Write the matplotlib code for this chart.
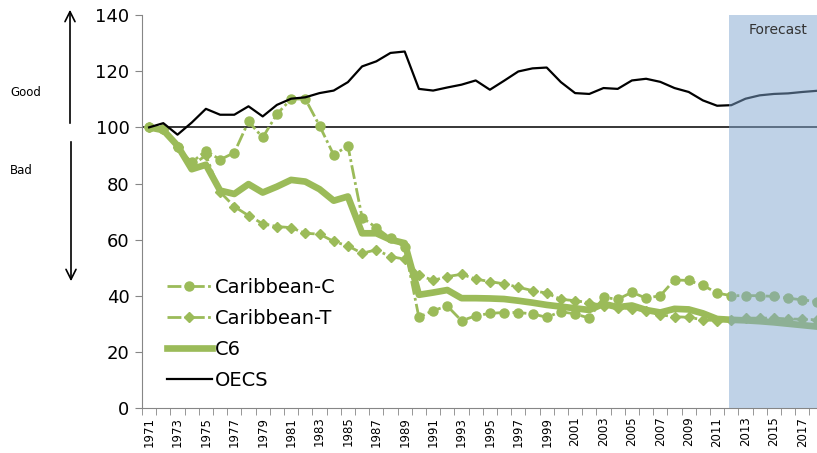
import matplotlib
matplotlib.use("Agg")
import matplotlib.pyplot as plt
import numpy as np

years = list(range(1971, 2019))
forecast_start = 2012

oecs = [100, 101.5, 97.4, 101.7, 106.6, 104.5, 104.5, 107.5, 103.9, 108.0,
        110.2, 110.7, 112.2, 113.1, 116.1, 121.7, 123.5, 126.5, 127.0, 113.7,
        113.1, 114.2, 115.2, 116.7, 113.4, 116.6, 119.9, 121.0, 121.3, 116.1,
        112.2, 111.9, 114.0, 113.7, 116.7, 117.3, 116.2, 114.0, 112.6, 109.6,
        107.7, 107.9, 110.2, 111.4, 111.9, 112.1, 112.6, 113.0]

carib_c = [100, 99.5, 93.0, 87.5, 91.7, 88.5, 91.0, 102.1, 96.4, 104.7,
           110.1, 110.1, 100.6, 90.2, 93.4, 67.9, 64.3, 60.5, 57.5, 32.4,
           34.8, 36.4, 31.2, 32.9, 33.8, 34.1, 34.1, 33.6, 32.4, 34.4,
           33.6, 32.1, 39.5, 38.8, 41.3, 39.2, 40.1, 45.7, 45.5, 43.8,
           41.0, 40.1, 40.1, 40.1, 39.8, 39.2, 38.6, 38.0]

carib_t = [100, 99.5, 93.0, 86.5, 90.0, 77.0, 71.8, 68.6, 65.7, 64.7,
           64.3, 62.3, 62.0, 59.4, 57.8, 55.2, 56.4, 54.0, 53.1, 47.5,
           45.5, 46.9, 47.7, 46.0, 45.1, 44.3, 43.1, 41.9, 41.0, 38.8,
           38.3, 37.6, 36.5, 35.8, 35.5, 34.5, 33.3, 32.6, 32.4, 31.5,
           31.2, 31.5, 32.1, 32.1, 32.1, 31.8, 31.7, 31.5]

c6 = [100, 99.0, 93.5, 85.1, 86.7, 77.5, 76.3, 79.8, 76.8, 78.9,
      81.3, 80.7, 78.0, 73.9, 75.4, 62.3, 62.3, 60.0, 58.8, 40.4,
      41.2, 42.1, 39.2, 39.2, 39.1, 38.9, 38.3, 37.6, 36.8, 36.2,
      35.6, 35.0, 37.2, 36.0, 36.6, 35.0, 34.1, 35.4, 35.2, 33.8,
      31.8, 31.5, 31.3, 31.0, 30.6, 30.1, 29.6, 29.1]

green = "#9bbb59"
grey = "#868686"

fig = plt.figure(figsize=(8.17, 4.53), dpi=100)
ax = fig.add_axes([142 / 817, 1 - 408.3 / 453, 681.6 / 817, 393.3 / 453])

x = np.arange(len(years))
dash = (0, (5, 1.2, 1, 1.2))

ax.plot(x, carib_c, color=green, lw=2, linestyle=dash, marker="o", ms=6.5,
        label="Caribbean-C", zorder=3)
ax.plot(x, carib_t, color=green, lw=2, linestyle=dash, marker="D", ms=5,
        label="Caribbean-T", zorder=3)
ax.plot(x, c6, color=green, lw=4.8, label="C6", zorder=4, solid_joinstyle="round")
ax.plot(x, oecs, color="black", lw=1.6, label="OECS", zorder=5)
ax.axhline(100, color="black", lw=1.1, zorder=2)

fs = years.index(forecast_start) - 0.15
ax.axvspan(fs, len(years) - 0.5, color="#81a7d1", alpha=0.5, lw=0, zorder=6)
ax.text(years.index(forecast_start) + 3.3, 134.5, "Forecast", fontsize=10,
        color="#333333", ha="center", va="center", zorder=7)

ax.set_xlim(-0.5, len(years) - 0.5)
ax.set_ylim(0, 140)
ax.set_yticks(range(0, 141, 20))
ax.tick_params(axis="y", labelsize=13, length=5, color=grey, pad=4)

ax.set_xticks(x[::2])
ax.set_xticklabels([str(y) for y in years[::2]], rotation=90, fontsize=8.5)
ax.set_xticks(np.arange(len(years) + 1) - 0.5, minor=True)
ax.tick_params(axis="x", which="major", length=0, pad=6)
ax.tick_params(axis="x", which="minor", length=5, color=grey)

for s in ["top", "right"]:
    ax.spines[s].set_visible(False)
for s in ["left", "bottom"]:
    ax.spines[s].set_color(grey)

ax.legend(loc="upper left", bbox_to_anchor=(167 / 817, 1 - 278 / 453),
          bbox_transform=fig.transFigure, frameon=False, borderpad=0,
          borderaxespad=0, fontsize=14, handlelength=2.3, handletextpad=0.15,
          labelspacing=0.62)

# Good / Bad arrows
ax.annotate("", xy=(70, 453 - 7), xytext=(70, 453 - 126), xycoords="figure pixels",
            textcoords="figure pixels",
            arrowprops=dict(arrowstyle="->", lw=1.2, color="black", mutation_scale=18))
ax.annotate("", xy=(71, 453 - 284), xytext=(71, 453 - 139), xycoords="figure pixels",
            textcoords="figure pixels",
            arrowprops=dict(arrowstyle="->", lw=1.2, color="black", mutation_scale=18))
fig.text(10 / 817, 1 - 93 / 453, "Good", fontsize=8.5, va="center")
fig.text(10 / 817, 1 - 171 / 453, "Bad", fontsize=8.5, va="center")

fig.savefig("out.png", dpi=100)
